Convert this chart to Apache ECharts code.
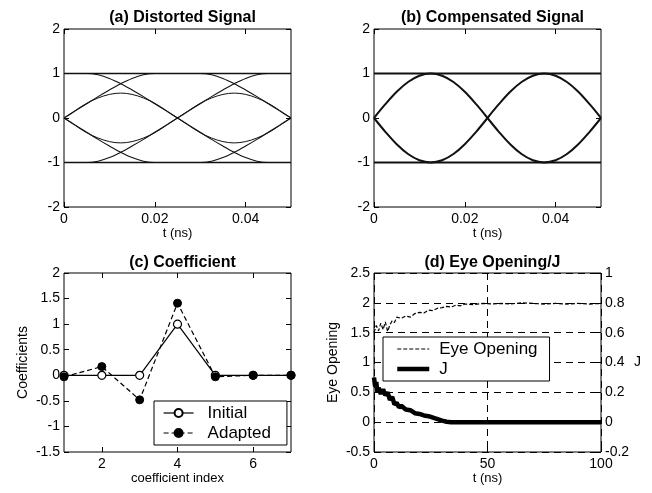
<!DOCTYPE html>
<html>
<head>
<meta charset="utf-8">
<script src="https://cdn.jsdelivr.net/npm/echarts@6/dist/echarts.min.js"></script>
<style>
  html, body { margin: 0; padding: 0; background: #fff; }
  #chart { width: 652px; height: 493px; }
</style>
</head>
<body>
<div id="chart"></div>
<script>
// eye diagram time samples (ns)
const eyeT = [0, 0.0025, 0.005, 0.0075, 0.01, 0.0125, 0.015, 0.0175, 0.02, 0.0225, 0.025,
  0.0275, 0.03, 0.0325, 0.035, 0.0375, 0.04, 0.0425, 0.045, 0.0475, 0.05]
const halfT1 = [0, 0.0025, 0.005, 0.0075, 0.01, 0.0125, 0.015, 0.0175, 0.02, 0.0225, 0.025]
const halfT2 = [0.025, 0.0275, 0.03, 0.0325, 0.035, 0.0375, 0.04, 0.0425, 0.045, 0.0475, 0.05]
const levelT = [0, 0.05]
const levelHi = [1, 1]
const levelLo = [-1, -1]

// (a) distorted traces
const distRise = [-1, -1, -1, -0.97, -0.89, -0.77, -0.63, -0.48, -0.32, -0.16, 0,
  0.16, 0.32, 0.48, 0.63, 0.77, 0.89, 0.97, 1, 1, 1]
const distFall = [1, 1, 1, 0.97, 0.89, 0.77, 0.63, 0.48, 0.32, 0.16, 0,
  -0.16, -0.32, -0.48, -0.63, -0.77, -0.89, -0.97, -1, -1, -1]
const distPlateauHi = [0, 0.16, 0.32, 0.48, 0.63, 0.77, 0.89, 0.97, 1, 1, 1,
  1, 1, 0.97, 0.89, 0.77, 0.63, 0.48, 0.32, 0.16, 0]
const distPlateauLo = [0, -0.16, -0.32, -0.48, -0.63, -0.77, -0.89, -0.97, -1, -1, -1,
  -1, -1, -0.97, -0.89, -0.77, -0.63, -0.48, -0.32, -0.16, 0]
const distHumpHi = [0, 0.17, 0.33, 0.45, 0.53, 0.56, 0.53, 0.45, 0.33, 0.17, 0]
const distHumpLo = [0, -0.17, -0.33, -0.45, -0.53, -0.56, -0.53, -0.45, -0.33, -0.17, 0]

// (b) compensated traces
const compArcHi = [0, 0.31, 0.59, 0.81, 0.95, 1, 0.95, 0.81, 0.59, 0.31, 0]
const compArcLo = [0, -0.31, -0.59, -0.81, -0.95, -1, -0.95, -0.81, -0.59, -0.31, 0]

// (c) coefficients
const coefIndex = [1, 2, 3, 4, 5, 6, 7]
const coefInitial = [0, 0, 0, 1, 0, 0, 0]
const coefAdapted = [-0.03, 0.17, -0.48, 1.41, -0.03, 0, 0]

// (d) eye opening / J
const eyeOpenT = [0, 1, 2, 3, 4, 5, 6, 7, 8, 9, 10, 12, 14, 16, 18, 20, 22, 24, 26, 28, 30,
  32, 34, 36, 38, 40, 44, 48, 52, 56, 60, 65, 70, 75, 80, 85, 90, 95, 100]
const eyeOpenVal = [1.5, 1.62, 1.53, 1.66, 1.55, 1.68, 1.52, 1.63, 1.7, 1.67, 1.76, 1.74, 1.78,
  1.76, 1.82, 1.84, 1.83, 1.88, 1.87, 1.91, 1.92, 1.94, 1.93, 1.96, 1.95, 1.98, 1.97, 1.99,
  1.98, 1.99, 1.98, 2.0, 1.99, 1.98, 1.99, 1.98, 1.99, 1.98, 1.99]
const jT = [0, 0.5, 1, 1.5, 2, 3, 4, 5, 6, 7, 8, 9, 10, 11, 12, 14, 16, 18, 20, 22, 24, 26,
  28, 30, 32, 34, 100]
const jVal = [0.3, 0.24, 0.27, 0.2, 0.23, 0.19, 0.22, 0.18, 0.2, 0.15, 0.17, 0.12, 0.13, 0.1,
  0.11, 0.085, 0.08, 0.06, 0.055, 0.045, 0.04, 0.03, 0.02, 0.01, 0.003, 0, 0]

const FONT = 'Liberation Sans'
const pairs = (xs, ys) => xs.map((x, i) => [x, ys[i]])
const tickStyle = (custom) => ({ inside: true, length: 5, customValues: custom, lineStyle: { color: '#000' } })

function xAx(grid, opt) {
  return Object.assign({
    type: 'value',
    gridIndex: grid,
    position: 'bottom',
    axisLine: { show: false, onZero: false },
    axisTick: tickStyle(),
    axisLabel: { color: '#000', fontSize: 14, fontFamily: FONT, margin: 5 },
    splitLine: { show: false },
    nameLocation: 'middle',
    nameGap: 19,
    nameTextStyle: { color: '#000', fontSize: 13, fontFamily: FONT }
  }, opt)
}
function yAx(grid, opt) {
  return Object.assign({
    type: 'value',
    gridIndex: grid,
    position: 'left',
    axisLine: { show: false, onZero: false },
    axisTick: tickStyle(),
    axisLabel: { color: '#000', fontSize: 14, fontFamily: FONT, margin: 4 },
    splitLine: { show: false },
    nameLocation: 'middle',
    nameGap: 34,
    nameTextStyle: { color: '#000', fontSize: 14, fontFamily: FONT }
  }, opt)
}
const eyeTicks = [0, 0.02, 0.04]
const eyeX = (g, pos) => xAx(g, {
  min: 0, max: 0.05, position: pos,
  axisTick: tickStyle(eyeTicks),
  axisLabel: pos === 'bottom'
    ? { color: '#000', fontSize: 14, fontFamily: FONT, margin: 5, customValues: eyeTicks }
    : { show: false },
  name: pos === 'bottom' ? 't (ns)' : ''
})
const eyeY = (g, pos) => yAx(g, {
  min: -2, max: 2, interval: 1, position: pos,
  axisLabel: pos === 'left'
    ? { color: '#000', fontSize: 14, fontFamily: FONT, margin: 4 }
    : { show: false }
})
const coefTicks = [2, 4, 6]
const dashGrid = { show: true, lineStyle: { color: '#000', type: [7, 5], width: 1 } }

const trace = (g, xs, ys, w) => ({
  type: 'line', xAxisIndex: g * 2, yAxisIndex: g * 2, data: pairs(xs, ys),
  symbol: 'none', smooth: 0.35, silent: true,
  lineStyle: { color: '#111', width: w }
})

const option = {
  animation: false,
  backgroundColor: '#fff',
  title: [
    { text: '(a) Distorted Signal', left: 177.5, top: 5, textAlign: 'center' },
    { text: '(b) Compensated Signal', left: 487.5, top: 5, textAlign: 'center' },
    { text: '(c) Coefficient', left: 177.5, top: 250, textAlign: 'center' },
    { text: '(d) Eye Opening/J', left: 487.5, top: 250, textAlign: 'center' }
  ].map((t) => Object.assign(t, {
    textStyle: { color: '#000', fontSize: 16, fontWeight: 'bold', fontFamily: FONT }
  })),
  grid: [
    { left: 64, top: 29, width: 227, height: 178 },
    { left: 374, top: 29, width: 227, height: 178 },
    { left: 64, top: 273, width: 227, height: 179 },
    { left: 374, top: 273, width: 227, height: 179 }
  ].map((g) => Object.assign(g, { show: true, borderColor: '#000', borderWidth: 1, backgroundColor: '#fff' })),
  legend: [
    {
      data: ['Initial', 'Adapted'],
      left: 154, top: 401, orient: 'vertical',
      backgroundColor: '#fff', borderColor: '#000', borderWidth: 1,
      padding: [3, 16, 3, 9], itemGap: 2, itemWidth: 30, itemHeight: 10,
      lineStyle: { width: 'inherit' },
      textStyle: { color: '#000', fontSize: 17, fontFamily: FONT, padding: [0, 0, 0, 9], lineHeight: 18 }
    },
    {
      data: ['Eye Opening', 'J'],
      left: 383, top: 337, orient: 'vertical',
      backgroundColor: '#fff', borderColor: '#000', borderWidth: 1,
      padding: [3, 12, 3, 12], itemGap: 2, itemWidth: 32, itemHeight: 14,
      lineStyle: { width: 'inherit' },
      textStyle: { color: '#000', fontSize: 17, fontFamily: FONT, padding: [0, 0, 0, 5], lineHeight: 18 }
    }
  ],
  xAxis: [
    eyeX(0, 'bottom'), eyeX(0, 'top'),
    eyeX(1, 'bottom'), eyeX(1, 'top'),
    xAx(2, {
      min: 1, max: 7, name: 'coefficient index',
      axisTick: tickStyle(coefTicks),
      axisLabel: { color: '#000', fontSize: 14, fontFamily: FONT, margin: 5, customValues: coefTicks }
    }),
    xAx(2, { min: 1, max: 7, position: 'top', axisLabel: { show: false }, axisTick: tickStyle(coefTicks) }),
    xAx(3, { min: 0, max: 100, interval: 50, name: 't (ns)', splitLine: dashGrid }),
    xAx(3, { min: 0, max: 100, interval: 50, position: 'top', axisLabel: { show: false } })
  ],
  yAxis: [
    eyeY(0, 'left'), eyeY(0, 'right'),
    eyeY(1, 'left'), eyeY(1, 'right'),
    yAx(2, { min: -1.5, max: 2, interval: 0.5, name: 'Coefficients' }),
    yAx(2, { min: -1.5, max: 2, interval: 0.5, position: 'right', axisLabel: { show: false } }),
    yAx(3, { min: -0.5, max: 2.5, interval: 0.5, name: 'Eye Opening', splitLine: dashGrid }),
    yAx(3, {
      min: -0.2, max: 1, interval: 0.2, position: 'right', name: 'J', nameRotate: 0, nameGap: 23
    })
  ],
  series: [
    trace(0, levelT, levelHi, 1.4), trace(0, levelT, levelLo, 1.4),
    trace(0, eyeT, distRise, 1.1), trace(0, eyeT, distFall, 1.1),
    trace(0, eyeT, distPlateauHi, 1.1), trace(0, eyeT, distPlateauLo, 1.1),
    trace(0, halfT1, distHumpHi, 1), trace(0, halfT2, distHumpHi, 1),
    trace(0, halfT1, distHumpLo, 1), trace(0, halfT2, distHumpLo, 1),
    trace(1, levelT, levelHi, 2), trace(1, levelT, levelLo, 2),
    trace(1, halfT1, compArcHi, 2), trace(1, halfT2, compArcHi, 2),
    trace(1, halfT1, compArcLo, 2), trace(1, halfT2, compArcLo, 2),
    {
      name: 'Initial', type: 'line', xAxisIndex: 4, yAxisIndex: 4,
      data: pairs(coefIndex, coefInitial),
      symbol: 'circle', symbolSize: 8,
      lineStyle: { color: '#000', width: 1.2 },
      itemStyle: { color: '#fff', borderColor: '#000', borderWidth: 1.2 }
    },
    {
      name: 'Adapted', type: 'line', xAxisIndex: 4, yAxisIndex: 4,
      data: pairs(coefIndex, coefAdapted),
      symbol: 'circle', symbolSize: 8,
      lineStyle: { color: '#000', width: 1.2, type: [5, 3] },
      itemStyle: { color: '#000', borderColor: '#000', borderWidth: 1 }
    },
    {
      name: 'Eye Opening', type: 'line', xAxisIndex: 6, yAxisIndex: 6,
      data: pairs(eyeOpenT, eyeOpenVal),
      symbol: 'none',
      lineStyle: { color: '#000', width: 1.2, type: [4, 2] },
      itemStyle: { color: '#000', opacity: 0 }
    },
    {
      name: 'J', type: 'line', xAxisIndex: 6, yAxisIndex: 7,
      data: pairs(jT, jVal),
      symbol: 'none',
      lineStyle: { color: '#000', width: 4.5 },
      itemStyle: { color: '#000', opacity: 0 }
    }
  ]
}

const chart = echarts.init(document.getElementById('chart'), null, { renderer: 'canvas' })
chart.setOption(option)
</script>
</body>
</html>
